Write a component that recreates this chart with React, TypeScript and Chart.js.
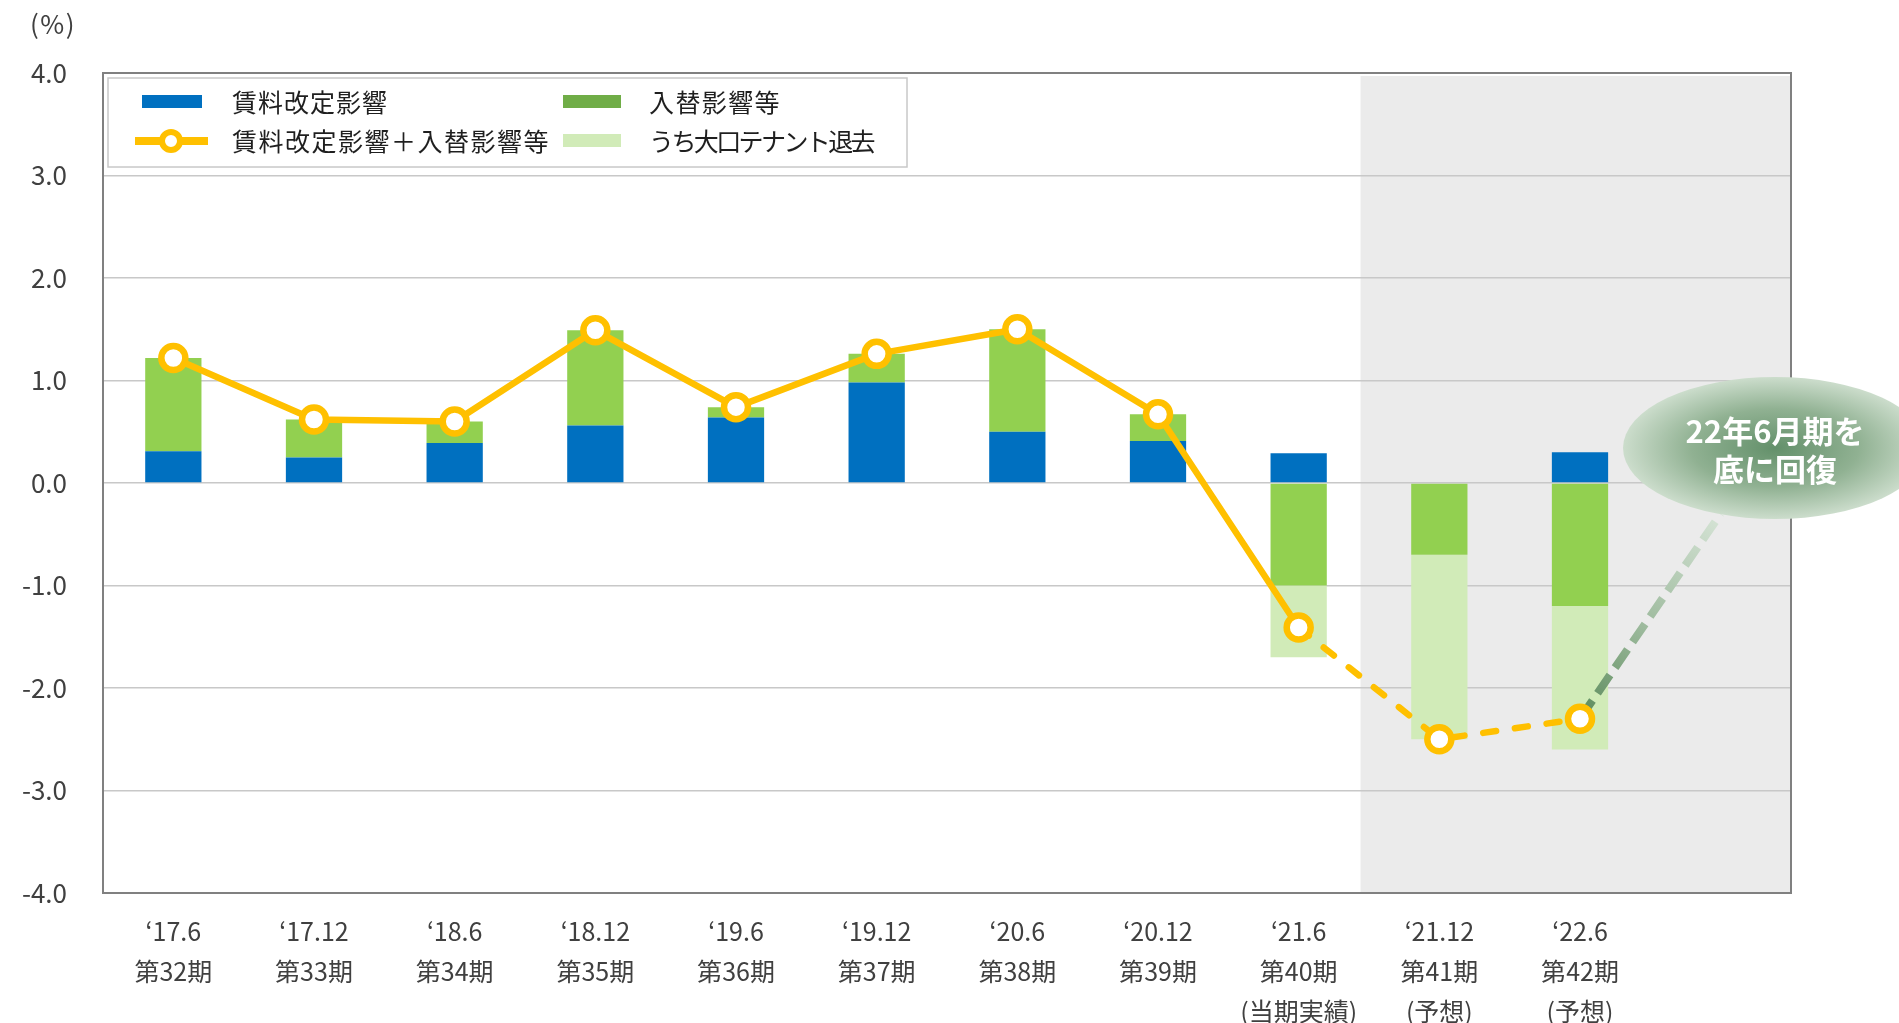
import React, { useEffect, useRef } from "react";
import { Chart, registerables } from "chart.js";

Chart.register(...registerables);

// ---------- data ----------
const periodLabels = ["‘17.6", "‘17.12", "‘18.6", "‘18.12", "‘19.6", "‘19.12", "‘20.6", "‘20.12", "‘21.6", "‘21.12", "‘22.6", ""];
const termLabels = ["第32期", "第33期", "第34期", "第35期", "第36期", "第37期", "第38期", "第39期", "第40期", "第41期", "第42期", ""];
const noteLabels = ["", "", "", "", "", "", "", "", "(当期実績)", "(予想)", "(予想)", ""];

const rentRevision = [0.31, 0.25, 0.39, 0.56, 0.64, 0.98, 0.5, 0.41, 0.29, 0, 0.3, null];
const tenantReplacement = [0.91, 0.37, 0.21, 0.93, 0.1, 0.28, 1.0, 0.26, -1.0, -0.7, -1.2, null];
const largeTenantExit = [null, null, null, null, null, null, null, null, -0.7, -1.8, -1.4, null];
const totalImpact = [1.22, 0.62, 0.6, 1.49, 0.74, 1.26, 1.5, 0.67, -1.41, -2.5, -2.3, null];
const recoveryPath = [null, null, null, null, null, null, null, null, null, null, -2.3, -0.3];

const yMin = -4;
const yMax = 4;
const yStep = 1;

const legendNames = ["賃料改定影響", "入替影響等", "賃料改定影響＋入替影響等", "うち大口テナント退去"];
const calloutLines = ["22年6月期を", "底に回復"];
const unitLabel = "(%)";
const dashFromIndex = 8; // line becomes dashed after the latest actual
const forecastStartIndex = 9; // shaded forecast area

// ---------- styles ----------
const FONT = "'Noto Sans CJK JP', 'Noto Sans', sans-serif";
const BLUE = "#0070C0";
const GREEN = "#92D050";
const GREEN_LEGEND = "#70AD47";
const LIGHT_GREEN = "#D1EBB8";
const YELLOW = "#FFC000";

const xLabels = periodLabels.map((p, i) => {
  const lines = [p, termLabels[i]];
  if (noteLabels[i]) lines.push(noteLabels[i]);
  return lines;
});

function fitText(ctx: any, text: string, x: number, y: number, width: number) {
  ctx.letterSpacing = "0px";
  const w = ctx.measureText(text).width;
  const n = Array.from(text).length;
  const sp = (width - w) / n;
  ctx.letterSpacing = `${sp.toFixed(2)}px`;
  ctx.fillText(text, x, y);
  ctx.letterSpacing = "0px";
}

const decorPlugin = {
  id: "decor",
  beforeDraw(chart: any) {
    const { ctx, chartArea: a, scales } = chart;
    ctx.save();
    ctx.fillStyle = "#ffffff";
    ctx.fillRect(0, 0, chart.width, chart.height);
    const sx = scales.x.getPixelForValue(forecastStartIndex - 0.56);
    ctx.fillStyle = "#EBEBEB";
    ctx.fillRect(sx, a.top + 3, a.right - sx, a.bottom - a.top - 3);
    ctx.restore();
  },
  beforeDatasetsDraw(chart: any) {
    const { ctx, chartArea: a } = chart;
    ctx.save();
    ctx.strokeStyle = "#808080";
    ctx.lineWidth = 2;
    ctx.strokeRect(a.left, a.top, a.right - a.left, a.bottom - a.top);
    ctx.restore();
  },
  afterDraw(chart: any) {
    const { ctx, chartArea: a } = chart;
    ctx.save();
    // unit label
    ctx.fillStyle = "#404040";
    ctx.font = `26px ${FONT}`;
    ctx.textAlign = "left";
    ctx.textBaseline = "middle";
    fitText(ctx, unitLabel, 30, 24, 46);

    // legend box
    const lx = a.left + 5;
    const ly = a.top + 5;
    ctx.fillStyle = "#ffffff";
    ctx.fillRect(lx, ly, 799, 89);
    ctx.strokeStyle = "#C8C8C8";
    ctx.lineWidth = 1.5;
    ctx.strokeRect(lx, ly, 799, 89);

    const r1 = ly + 24;
    const r2 = ly + 63;
    const c1 = lx + 34;
    const c2 = lx + 455;
    const t1 = lx + 124;
    const t2 = lx + 541;
    ctx.fillStyle = BLUE;
    ctx.fillRect(c1, r1 - 7, 60, 13);
    ctx.fillStyle = GREEN_LEGEND;
    ctx.fillRect(c2, r1 - 7, 58, 13);
    ctx.fillStyle = LIGHT_GREEN;
    ctx.fillRect(c2, r2 - 7, 58, 13);
    // line symbol
    ctx.strokeStyle = YELLOW;
    ctx.lineWidth = 8;
    ctx.beginPath();
    ctx.moveTo(c1 - 7, r2);
    ctx.lineTo(c1 + 66, r2);
    ctx.stroke();
    ctx.beginPath();
    ctx.arc(c1 + 29, r2, 9, 0, Math.PI * 2);
    ctx.fillStyle = "#fff";
    ctx.fill();
    ctx.lineWidth = 6;
    ctx.stroke();

    ctx.fillStyle = "#1F1F1F";
    ctx.font = `25px ${FONT}`;
    ctx.textAlign = "left";
    ctx.textBaseline = "middle";
    fitText(ctx, legendNames[0], t1, r1, 156);
    fitText(ctx, legendNames[1], t2, r1, 132);
    fitText(ctx, legendNames[2], t1, r2, 318);
    fitText(ctx, legendNames[3], t2, r2, 224);

    // callout bubble
    const bx = a.right - 16;
    const by = 448;
    const rx = 152;
    const ry = 71;
    ctx.save();
    ctx.translate(bx, by);
    ctx.scale(1, ry / rx);
    const g = ctx.createRadialGradient(0, 0, 0, 0, 0, rx);
    g.addColorStop(0, "#63906A");
    g.addColorStop(0.55, "#90B192");
    g.addColorStop(1, "#CCDDCC");
    ctx.fillStyle = g;
    ctx.beginPath();
    ctx.arc(0, 0, rx, 0, Math.PI * 2);
    ctx.fill();
    ctx.restore();

    ctx.fillStyle = "#ffffff";
    ctx.font = `bold 31px ${FONT}`;
    ctx.textAlign = "center";
    ctx.fillText(calloutLines[0], bx, by - 17);
    ctx.fillText(calloutLines[1], bx, by + 21);
    ctx.restore();
  },
};

export default function App() {
  const ref = useRef<HTMLCanvasElement | null>(null);

  useEffect(() => {
    if (!ref.current) return;
    const chart = new Chart(ref.current, {
      type: "bar",
      data: {
        labels: xLabels,
        datasets: [
          {
            type: "line",
            label: legendNames[2],
            data: totalImpact,
            stack: "total",
            order: 1,
            borderColor: YELLOW,
            borderWidth: 6.5,
            borderCapStyle: "round",
            borderJoinStyle: "round",
            pointRadius: 12,
            pointBorderWidth: 6.5,
            pointBackgroundColor: "#ffffff",
            pointBorderColor: YELLOW,
            tension: 0,
            segment: {
              borderDash: (c: any) => (c.p0DataIndex >= dashFromIndex ? [13, 19] : undefined),
            },
          } as any,
          {
            type: "line",
            label: "recovery",
            data: recoveryPath,
            stack: "recovery",
            order: 2,
            borderWidth: 8,
            borderDash: [22, 9],
            borderCapStyle: "butt",
            pointRadius: 0,
            tension: 0,
            borderColor: (c: any) => {
              const ch = c.chart;
              const { chartArea, scales } = ch;
              if (!chartArea) return "#5E8C5E";
              const i0 = recoveryPath.findIndex((v) => v !== null);
              const i1 = recoveryPath.length - 1;
              const x0 = scales.x.getPixelForValue(i0);
              const x1 = scales.x.getPixelForValue(i1);
              const y0 = scales.y.getPixelForValue(recoveryPath[i0] as number);
              const y1 = scales.y.getPixelForValue(recoveryPath[i1] as number);
              const gr = ch.ctx.createLinearGradient(x0, y0, x1, y1);
              gr.addColorStop(0, "#5A8A5A");
              gr.addColorStop(0.45, "#9DBA9D");
              gr.addColorStop(1, "#D6E4D6");
              return gr;
            },
          } as any,
          {
            label: legendNames[0],
            data: rentRevision,
            backgroundColor: BLUE,
            order: 3,
            barPercentage: 0.4,
            categoryPercentage: 1,
          },
          {
            label: legendNames[1],
            data: tenantReplacement,
            backgroundColor: GREEN,
            order: 3,
            barPercentage: 0.4,
            categoryPercentage: 1,
          },
          {
            label: legendNames[3],
            data: largeTenantExit,
            backgroundColor: LIGHT_GREEN,
            order: 3,
            barPercentage: 0.4,
            categoryPercentage: 1,
          },
        ],
      },
      options: {
        responsive: false,
        animation: false,
        layout: { padding: { top: 73, right: 108, left: 0, bottom: 0 } },
        plugins: {
          legend: { display: false },
          tooltip: { enabled: false },
        },
        scales: {
          x: {
            stacked: true,
            grid: { display: false, drawTicks: false },
            border: { display: false },
            ticks: {
              autoSkip: false,
              maxRotation: 0,
              minRotation: 0,
              padding: 18,
              color: "#404040",
              font: { family: FONT, size: 25, lineHeight: "40px" as any },
            },
            afterFit: (s: any) => {
              s.height = 130;
            },
          },
          y: {
            stacked: true,
            min: yMin,
            max: yMax,
            grid: { color: "#C8C8C8", lineWidth: 1.5, drawTicks: false },
            border: { display: false },
            ticks: {
              stepSize: yStep,
              padding: 36,
              color: "#404040",
              font: { family: FONT, size: 26 },
              callback: (v: any) => Number(v).toFixed(1),
            },
            afterFit: (s: any) => {
              s.width = 103;
            },
          },
        },
      },
      plugins: [decorPlugin],
    });
    return () => chart.destroy();
  }, []);

  return (
    <div style={{ position: "absolute", left: 0, top: 0, width: 1899, height: 1023 }}>
      <canvas ref={ref} width={1899} height={1023} style={{ display: "block" }} />
    </div>
  );
}
